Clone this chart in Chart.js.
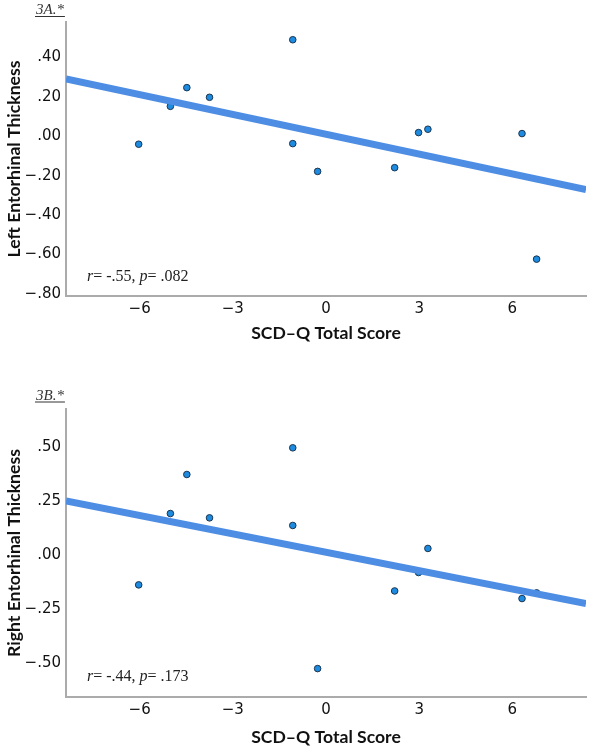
<!DOCTYPE html>
<html>
<head>
<meta charset="utf-8">
<script src="https://cdn.jsdelivr.net/npm/chart.js@4"></script>
<style>
  body { margin: 0; background: #fff; }
  #wrap { position: relative; width: 591px; height: 749px; }
  canvas { position: absolute; left: 0; }
  #chartA { top: 0; }
  #chartB { top: 375px; }
</style>
</head>
<body>
<div id="wrap">
  <canvas id="chartA" width="591" height="345"></canvas>
  <canvas id="chartB" width="591" height="374"></canvas>
</div>
<script>
// SCD-Q total score per participant (same for both panels)
const scdScore = [-6.03, -5.01, -4.48, -3.75, -1.07, -1.07, -0.27, 2.21, 2.98, 3.28, 6.31, 6.78];
const leftThickness = [-0.04, 0.152, 0.247, 0.198, 0.49, -0.037, -0.178, -0.159, 0.019, 0.036, 0.014, -0.623];
const rightThickness = [-0.137, 0.192, 0.372, 0.172, 0.495, 0.137, -0.523, -0.165, -0.08, 0.031, -0.2, -0.174];

// fit lines at the axis edges
const fitX = [-8.37, 8.37];
const leftFitY = [0.291, -0.27];
const rightFitY = [0.25, -0.223];

const xTicks = [-6, -3, 0, 3, 6];
const leftYTicks = [-0.8, -0.6, -0.4, -0.2, 0, 0.2, 0.4];
const rightYTicks = [-0.5, -0.25, 0, 0.25, 0.5];

const tickFont = { family: "DejaVu Sans", size: 15 };
const titleFont = { family: "Lato", size: 17.6, weight: "bold" };

const fmtY = (v) => {
    let s = Math.abs(v).toFixed(2).replace(/^0/, "");
    return v < 0 ? "\u2212" + s : s;
};
const fmtX = (v) => v < 0 ? "\u2212" + Math.abs(v) : String(v);

const notes = {
    id: "notes",
    afterDraw(chart, args, opts) {
        const ctx = chart.ctx;
        ctx.save();
        // panel tag, italic + underlined
        ctx.fillStyle = "#333";
        ctx.font = "italic 15px 'Liberation Serif'";
        ctx.textBaseline = "alphabetic";
        ctx.fillText(opts.tag, 36, opts.tagY);
        const w = ctx.measureText(opts.tag).width;
        ctx.strokeStyle = "#333";
        ctx.lineWidth = 1;
        ctx.beginPath();
        ctx.moveTo(35, opts.tagY + 2.5);
        ctx.lineTo(37 + w, opts.tagY + 2.5);
        ctx.stroke();
        // stats text
        ctx.fillStyle = "#222";
        let x = 87;
        const parts = [["r", true], ["= " + opts.r + ", ", false], ["p", true], ["= " + opts.p, false]];
        parts.forEach(([t, it]) => {
            ctx.font = (it ? "italic " : "") + "16px 'Liberation Serif'";
            ctx.fillText(t, x, opts.statY);
            x += ctx.measureText(t).width;
        });
        ctx.restore();
    }
};

const makeChart = (el, yVals, fitY, yMin, yMax, yTicks, yTitle, padTop, xHeight, noteOpts) => {
    return new Chart(document.querySelector(el).getContext("2d"), {
        data: {
            datasets: [
                {
                    type: "line",
                    data: fitX.map((x, i) => ({ x: x, y: fitY[i] })),
                    borderColor: "#4d8de3",
                    borderWidth: 7,
                    pointRadius: 0,
                    order: 0
                },
                {
                    type: "scatter",
                    data: scdScore.map((x, i) => ({ x: x, y: yVals[i] })),
                    backgroundColor: "#1d8be0",
                    borderColor: "#1b3550",
                    borderWidth: 1,
                    pointRadius: 3.3,
                    order: 1
                }
            ]
        },
        options: {
            responsive: false,
            animation: false,
            layout: { padding: { top: padTop, right: 3, left: 0, bottom: 0 } },
            plugins: { legend: { display: false }, tooltip: { enabled: false }, notes: noteOpts },
            scales: {
                x: {
                    type: "linear",
                    min: fitX[0],
                    max: fitX[1],
                    afterBuildTicks: (s) => { s.ticks = xTicks.map(v => ({ value: v })); },
                    afterFit: (s) => { s.height = xHeight; },
                    grid: { display: false, drawTicks: false },
                    border: { color: "#ababab", width: 2 },
                    ticks: { font: tickFont, color: "#111", padding: 4, callback: fmtX },
                    title: { display: true, text: "SCD\u2013Q Total Score", font: titleFont, color: "#111", padding: { top: 0, bottom: 1 } }
                },
                y: {
                    min: yMin,
                    max: yMax,
                    afterBuildTicks: (s) => { s.ticks = yTicks.map(v => ({ value: v })); },
                    afterFit: (s) => { s.width = 66; },
                    grid: { display: false, drawTicks: false },
                    border: { color: "#ababab", width: 2 },
                    ticks: { font: tickFont, color: "#111", padding: 5, callback: fmtY },
                    title: { display: true, text: yTitle, font: titleFont, color: "#111", padding: { top: 4, bottom: 0 } }
                }
            }
        },
        plugins: [notes]
    });
};

makeChart("#chartA", leftThickness, leftFitY, -0.81, 0.58, leftYTicks, "Left Entorhinal Thickness", 22, 49,
    { tag: "3A.*", tagY: 14, r: "-.55", p: ".082", statY: 281 });
makeChart("#chartB", rightThickness, rightFitY, -0.654, 0.674, rightYTicks, "Right Entorhinal Thickness", 34, 52,
    { tag: "3B.*", tagY: 24.5, r: "-.44", p: ".173", statY: 306 });
</script>
</body>
</html>
